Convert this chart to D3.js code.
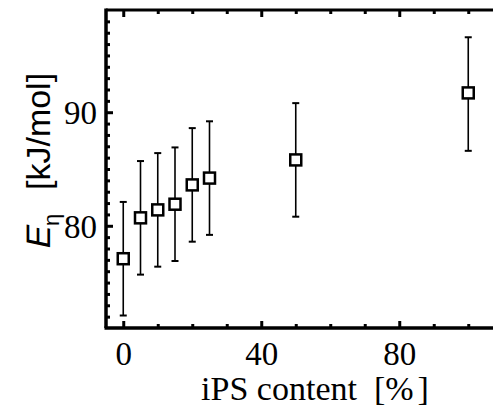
<!DOCTYPE html>
<html>
<head>
<meta charset="utf-8">
<script src="https://cdn.jsdelivr.net/npm/d3@7"></script>
<style>
html,body{margin:0;padding:0;background:#fff;overflow:hidden;}
svg{display:block;}
</style>
</head>
<body>
<svg id="chart" width="493" height="412"></svg>
<script>
const content = [0, 5, 10, 15, 20, 25, 50, 100];
const energy = [77.1, 80.7, 81.4, 81.9, 83.6, 84.2, 85.8, 91.7];
const errLow = [5.0, 5.0, 5.0, 5.0, 5.0, 5.0, 5.0, 5.1];
const errHigh = [5.0, 5.0, 5.0, 5.0, 5.0, 5.0, 5.0, 4.9];
const xMajorTicks = [0, 40, 80];
const xMinorTicks = [10, 20, 30, 50, 60, 70, 90, 100];
const yMajorTicks = [80, 90];
const yMinorTicks = d3.range(72, 99, 1).filter(v => v % 10 !== 0);

(function () {
const svg = d3.select("#chart");
const mLeft = 106, mRight = 502.75, mTop = 10, mBottom = 328;
const x = d3.scaleLinear().domain([-5, 110]).range([mLeft, mRight]);
const y = d3.scaleLinear().domain([71, 99]).range([mBottom, mTop]);

const serif = "Liberation Serif";
const sans = "Liberation Sans";

// Bottom axis
const gB = svg.append("g").attr("transform", `translate(0,${mBottom})`);
gB.call(d3.axisBottom(x).tickValues(xMajorTicks).tickSize(-7).tickPadding(0).tickFormat(d3.format("d")));
gB.append("g").call(d3.axisBottom(x).tickValues(xMinorTicks).tickSize(-4).tickFormat(""));
gB.attr("font-family", serif).attr("font-size", 33);
gB.selectAll(".domain").remove();
gB.selectAll(".tick line").attr("stroke", "#000").attr("stroke-width", 3);
gB.selectAll(".tick text").attr("dy", null).attr("y", 37);

// Top axis (ticks only, inward)
const gT = svg.append("g").attr("transform", `translate(0,${mTop})`);
gT.call(d3.axisTop(x).tickValues(xMajorTicks).tickSize(-7).tickFormat(""));
gT.append("g").call(d3.axisTop(x).tickValues(xMinorTicks).tickSize(-4).tickFormat(""));
gT.selectAll(".domain").remove();
gT.selectAll(".tick line").attr("stroke", "#000").attr("stroke-width", 3);

// Left axis
const gL = svg.append("g").attr("transform", `translate(${mLeft},0)`);
gL.call(d3.axisLeft(y).tickValues(yMajorTicks).tickSize(-7).tickPadding(0).tickFormat(d3.format("d")));
gL.append("g").call(d3.axisLeft(y).tickValues(yMinorTicks).tickSize(-4).tickFormat(""));
gL.attr("font-family", serif).attr("font-size", 33);
gL.selectAll(".domain").remove();
gL.selectAll(".tick line").attr("stroke", "#000").attr("stroke-width", 3);
gL.selectAll(".tick text").attr("x", -9).attr("dy", "0.34em");

// Frame lines
svg.append("line").attr("x1", mLeft).attr("x2", 493).attr("y1", mTop).attr("y2", mTop).attr("stroke", "#000").attr("stroke-width", 3);
svg.append("line").attr("x1", mLeft - 1.5).attr("x2", 493).attr("y1", mBottom).attr("y2", mBottom).attr("stroke", "#000").attr("stroke-width", 3.5);
svg.append("line").attr("x1", mLeft).attr("x2", mLeft).attr("y1", mTop - 1.5).attr("y2", mBottom).attr("stroke", "#000").attr("stroke-width", 3.5);

// Error bars
const data = content.map((c, i) => ({ c, e: energy[i], lo: energy[i] - errLow[i], hi: energy[i] + errHigh[i] }));
const gE = svg.append("g");
gE.selectAll("line.bar").data(data).join("line").attr("class", "bar")
  .attr("x1", d => x(d.c)).attr("x2", d => x(d.c))
  .attr("y1", d => y(d.lo)).attr("y2", d => y(d.hi))
  .attr("stroke", "#000").attr("stroke-width", 1.6);
["lo", "hi"].forEach(k => {
  gE.selectAll("line.cap" + k).data(data).join("line").attr("class", "cap" + k)
    .attr("x1", d => x(d.c) - 3.5).attr("x2", d => x(d.c) + 3.5)
    .attr("y1", d => y(d[k])).attr("y2", d => y(d[k]))
    .attr("stroke", "#000").attr("stroke-width", 2);
});

// Square markers
const s = 11;
svg.append("g").selectAll("rect").data(data).join("rect")
  .attr("x", d => x(d.c) - s / 2).attr("y", d => y(d.e) - s / 2)
  .attr("width", s).attr("height", s)
  .attr("fill", "#fff").attr("stroke", "#000").attr("stroke-width", 2.5);

// X axis title
const xt = svg.append("text").attr("x", 315).attr("y", 400).attr("text-anchor", "middle")
  .attr("font-family", serif).attr("font-size", 34);
xt.append("tspan").text("iPS content");
xt.append("tspan").attr("dx", 17).text("[%");
xt.append("tspan").attr("dx", 4).text("]");

// Y axis title
const yt = svg.append("g").attr("transform", "translate(50,250) rotate(-90)");
yt.append("text").attr("transform", "skewX(-12)").attr("x", 0).attr("y", 0)
  .attr("font-family", sans).attr("font-size", 34).text("E");
yt.append("text").attr("x", 24).attr("y", 9)
  .attr("font-family", sans).attr("font-size", 22).text("\u03b7");
yt.append("text").attr("x", 60).attr("y", 0)
  .attr("font-family", sans).attr("font-size", 34).text("[kJ/mol]");
})();
</script>
</body>
</html>
